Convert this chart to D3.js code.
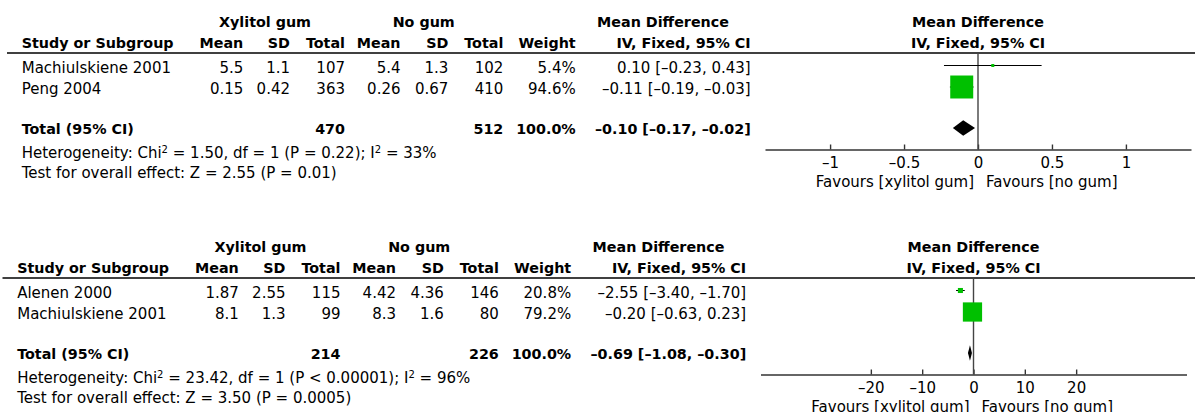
<!DOCTYPE html>
<html>
<head>
<meta charset="utf-8">
<script src="https://cdn.jsdelivr.net/npm/d3@7"></script>
<style>
  body { margin: 0; background: #fff; }
  svg { display: block; font-family: "DejaVu Sans", Verdana, sans-serif; }
  text { fill: #000; }
  .b { font-weight: bold; font-size: 14.3px; }
  .r { font-size: 15px; }
</style>
</head>
<body>
<script>
// panel 1: dental plaque / caries score
const studies1 = ["Machiulskiene 2001", "Peng 2004"];
const xylMean1 = ["5.5", "0.15"];
const xylSD1 = ["1.1", "0.42"];
const xylN1 = [107, 363];
const noMean1 = ["5.4", "0.26"];
const noSD1 = ["1.3", "0.67"];
const noN1 = [102, 410];
const weight1 = [5.4, 94.6];
const md1 = [0.10, -0.11];
const lo1 = [-0.23, -0.19];
const hi1 = [0.43, -0.03];
const total1 = [470, 512, 100.0, -0.10, -0.17, -0.02];
const ticks1 = [-1, -0.5, 0, 0.5, 1];
const het1 = ["1.50", "1", "P = 0.22", "33%"];
const overall1 = ["2.55", "P = 0.01"];

// panel 2
const studies2 = ["Alenen 2000", "Machiulskiene 2001"];
const xylMean2 = ["1.87", "8.1"];
const xylSD2 = ["2.55", "1.3"];
const xylN2 = [115, 99];
const noMean2 = ["4.42", "8.3"];
const noSD2 = ["4.36", "1.6"];
const noN2 = [146, 80];
const weight2 = [20.8, 79.2];
const md2 = [-2.55, -0.20];
const lo2 = [-3.40, -0.63];
const hi2 = [-1.70, 0.23];
const total2 = [214, 226, 100.0, -0.69, -1.08, -0.30];
const ticks2 = [-20, -10, 0, 10, 20];
const het2 = ["23.42", "1", "P < 0.00001", "96%"];
const overall2 = ["3.50", "P = 0.0005"];

const W = 1195, H = 412;
const svg = d3.select("body").append("svg").attr("width", W).attr("height", H);

function num(v) {
    return (v < 0 ? "\u2013" : "") + Math.abs(v).toFixed(2);
}
function tickFmt(v) {
    return (v < 0 ? "\u2013" : "") + d3.format("")(Math.abs(v));
}

function drawPanel(g, p) {
    let col = { study: 21.7, xm: 243.3, xs: 290, xn: 345, nm: 400.5, ns: 448.3, nn: 503.3, w: 575.7, ci: 750.7 };
    let rowY = [65.5, 87], totY = 128, axisY = 149.5;

    let x = d3.scaleLinear().domain(p.domain).range([765, 1191]);
    let size = d3.scaleLinear().domain([0, 100]).range([0, 24.3]);

    // headers
    g.append("text").attr("class", "b").attr("x", 265).attr("y", 26.5).attr("text-anchor", "middle").text("Xylitol gum");
    g.append("text").attr("class", "b").attr("x", 423.7).attr("y", 26.5).attr("text-anchor", "middle").text("No gum");
    g.append("text").attr("class", "b").attr("x", 663).attr("y", 26.5).attr("text-anchor", "middle").text("Mean Difference");
    g.append("text").attr("class", "b").attr("x", 978).attr("y", 26.5).attr("text-anchor", "middle").text("Mean Difference");
    g.append("text").attr("class", "b").attr("x", 978).attr("y", 48).attr("text-anchor", "middle").text("IV, Fixed, 95% CI");

    g.append("text").attr("class", "b").attr("x", col.study).attr("y", 48).text("Study or Subgroup");
    let heads = [["xm", "Mean"], ["xs", "SD"], ["xn", "Total"], ["nm", "Mean"], ["ns", "SD"], ["nn", "Total"], ["w", "Weight"], ["ci", "IV, Fixed, 95% CI"]];
    heads.forEach(h => {
        g.append("text").attr("class", "b").attr("x", col[h[0]]).attr("y", 48).attr("text-anchor", "end").text(h[1]);
    });

    g.append("line").attr("x1", 7).attr("x2", W + 10).attr("y1", 53).attr("y2", 53)
        .attr("stroke", "#000").attr("stroke-width", 1.3);

    // study rows
    p.studies.forEach((s, i) => {
        let ty = rowY[i] + 7;
        g.append("text").attr("class", "r").attr("x", col.study).attr("y", ty).text(s);
        let cells = [["xm", p.xm[i]], ["xs", p.xs[i]], ["xn", p.xn[i]], ["nm", p.nm[i]], ["ns", p.ns[i]], ["nn", p.nn[i]],
            ["w", p.w[i].toFixed(1) + "%"], ["ci", num(p.md[i]) + " [" + num(p.lo[i]) + ", " + num(p.hi[i]) + "]"]];
        cells.forEach(c => {
            g.append("text").attr("class", "r").attr("x", col[c[0]]).attr("y", ty).attr("text-anchor", "end").text(c[1]);
        });
    });

    // total row
    let t = p.total;
    g.append("text").attr("class", "b").attr("x", col.study).attr("y", totY + 5.5).text("Total (95% CI)");
    [["xn", t[0]], ["nn", t[1]], ["w", t[2].toFixed(1) + "%"], ["ci", num(t[3]) + " [" + num(t[4]) + ", " + num(t[5]) + "]"]].forEach(c => {
        g.append("text").attr("class", "b").attr("x", col[c[0]]).attr("y", totY + 5.5).attr("text-anchor", "end").text(c[1]);
    });

    let het = g.append("text").attr("class", "r").attr("x", col.study).attr("y", 158);
    het.append("tspan").text("Heterogeneity: Chi");
    het.append("tspan").attr("dy", -5.5).attr("font-size", 10).text("2");
    het.append("tspan").attr("dy", 5.5).text(" = " + p.het[0] + ", df = " + p.het[1] + " (" + p.het[2] + "); I");
    het.append("tspan").attr("dy", -5.5).attr("font-size", 10).text("2");
    het.append("tspan").attr("dy", 5.5).text(" = " + p.het[3]);

    g.append("text").attr("class", "r").attr("x", col.study).attr("y", 177.5)
        .text("Test for overall effect: Z = " + p.overall[0] + " (" + p.overall[1] + ")");

    // forest plot
    let axis = d3.axisBottom(x).tickValues(p.ticks).tickFormat(tickFmt).tickSizeInner(-5).tickSizeOuter(0).tickPadding(10);
    let ax = g.append("g").attr("transform", "translate(0," + axisY + ")").call(axis);
    ax.select(".domain").attr("stroke", "#333").attr("stroke-width", 1.6);
    ax.selectAll(".tick line").attr("stroke", "#333").attr("stroke-width", 1.4);
    ax.selectAll(".tick text").attr("font-size", 15).attr("font-family", "DejaVu Sans").attr("fill", "#000").attr("dy", 0).attr("y", 18.5);

    g.append("line").attr("x1", x(0)).attr("x2", x(0)).attr("y1", 53).attr("y2", axisY)
        .attr("stroke", "#444").attr("stroke-width", 1.4);

    p.studies.forEach((s, i) => {
        g.append("line").attr("x1", x(p.lo[i])).attr("x2", x(p.hi[i])).attr("y1", rowY[i]).attr("y2", rowY[i])
            .attr("stroke", "#000").attr("stroke-width", 1);
        let sz = Math.max(3, size(p.w[i]));
        g.append("rect").attr("x", x(p.md[i]) - sz / 2).attr("y", rowY[i] - sz / 2)
            .attr("width", sz).attr("height", sz).attr("fill", "#00c000");
    });

    let dia = [[x(t[4]), totY], [x(t[3]), totY - 7.8], [x(t[5]), totY], [x(t[3]), totY + 7.8]];
    g.append("path").attr("d", d3.line()(dia) + "Z").attr("fill", "#000");

    g.append("text").attr("class", "r").attr("x", x(0) - 4).attr("y", axisY + 37.5).attr("text-anchor", "end").text("Favours [xylitol gum]");
    g.append("text").attr("class", "r").attr("x", x(0) + 8).attr("y", axisY + 37.5).text("Favours [no gum]");
}

drawPanel(svg.append("g"), {
    studies: studies1, xm: xylMean1, xs: xylSD1, xn: xylN1, nm: noMean1, ns: noSD1, nn: noN1,
    w: weight1, md: md1, lo: lo1, hi: hi1, total: total1, ticks: ticks1, het: het1, overall: overall1,
    domain: [-1.44, 1.44]
});
drawPanel(svg.append("g").attr("transform", "translate(-4.5,225)"), {
    studies: studies2, xm: xylMean2, xs: xylSD2, xn: xylN2, nm: noMean2, ns: noSD2, nn: noN2,
    w: weight2, md: md2, lo: lo2, hi: hi2, total: total2, ticks: ticks2, het: het2, overall: overall2,
    domain: [-41.5, 41.5]
});
</script>
</body>
</html>
